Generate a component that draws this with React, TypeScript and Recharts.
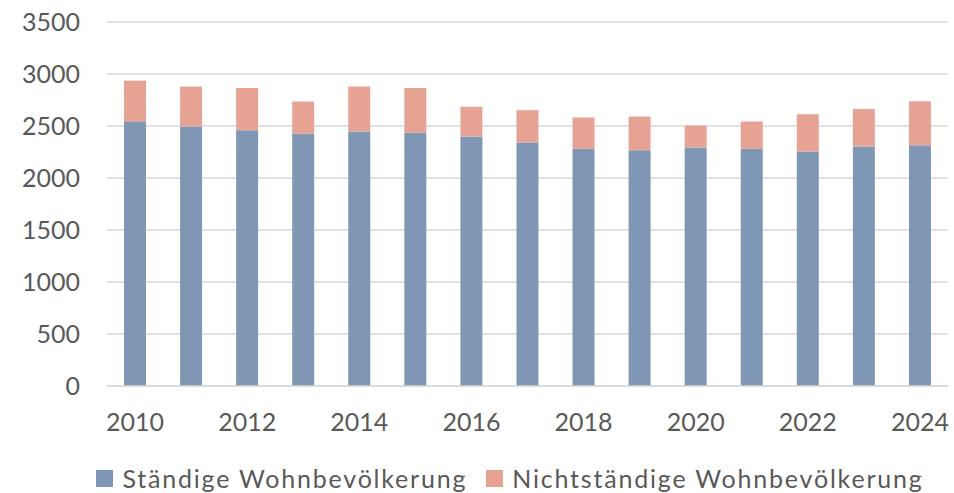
import React from 'react';
import { BarChart, Bar, XAxis, YAxis, CartesianGrid, Legend } from 'recharts';

const years = ['2010','2011','2012','2013','2014','2015','2016','2017','2018','2019','2020','2021','2022','2023','2024'];
const staendig = [2545, 2496, 2460, 2425, 2448, 2434, 2400, 2342, 2281, 2268, 2294, 2281, 2256, 2304, 2316];
const total = [2936, 2879, 2866, 2735, 2879, 2866, 2685, 2652, 2582, 2591, 2505, 2543, 2613, 2664, 2738];
const yTicks = [0, 500, 1000, 1500, 2000, 2500, 3000, 3500];

const data = years.map((y, i) => ({
  year: y,
  s: staendig[i],
  n: total[i] - staendig[i],
}));

const BLUE = '#7f97b5';
const SALMON = '#e6a393';
const TEXT = '#595959';
const FONT = 'Lato, Carlito, "Noto Sans", sans-serif';

const legendItems = [
  { label: 'Ständige Wohnbevölkerung', color: BLUE },
  { label: 'Nichtständige Wohnbevölkerung', color: SALMON },
];

const LegendContent = () => (
  <div style={{ height: 40, paddingTop: 10, boxSizing: 'border-box', display: 'flex', justifyContent: 'center', alignItems: 'center', fontFamily: FONT, fontSize: 25, letterSpacing: 1.8, color: TEXT, whiteSpace: 'nowrap' }}>
    {legendItems.map((it, i) => (
      <div key={i} style={{ display: 'flex', alignItems: 'center', marginLeft: i ? 19 : 0 }}>
        <div style={{ width: 17, height: 17, background: it.color, marginRight: 9 }} />
        <span>{it.label}</span>
      </div>
    ))}
  </div>
);

export default function App() {
  return (
    <div style={{ position: 'absolute', left: 0, top: 0, width: 954, height: 493, background: '#fff' }}>
      <BarChart width={954} height={493} data={data} margin={{ top: 22, right: 6, bottom: 0, left: 0 }}>
        <CartesianGrid vertical={false} stroke="#d9d9d9" strokeWidth={1.5} />
        <XAxis
          dataKey="year"
          interval={1}
          tickLine={false}
          tickSize={0}
          tickMargin={27}
          height={67}
          axisLine={{ stroke: '#d9d9d9', strokeWidth: 1.5 }}
          tick={{ fill: TEXT, fontSize: 25, fontFamily: FONT }}
        />
        <YAxis
          width={107}
          domain={[0, 3500]}
          ticks={yTicks}
          tickLine={false}
          axisLine={false}
          tickSize={0}
          tickMargin={27}
          tick={{ fill: TEXT, fontSize: 25, fontFamily: FONT }}
        />
        <Legend verticalAlign="bottom" content={<LegendContent />} wrapperStyle={{ left: 36 }} />
        <Bar dataKey="s" stackId="a" fill={BLUE} barSize={22} isAnimationActive={false} />
        <Bar dataKey="n" stackId="a" fill={SALMON} barSize={22} isAnimationActive={false} />
      </BarChart>
    </div>
  );
}
